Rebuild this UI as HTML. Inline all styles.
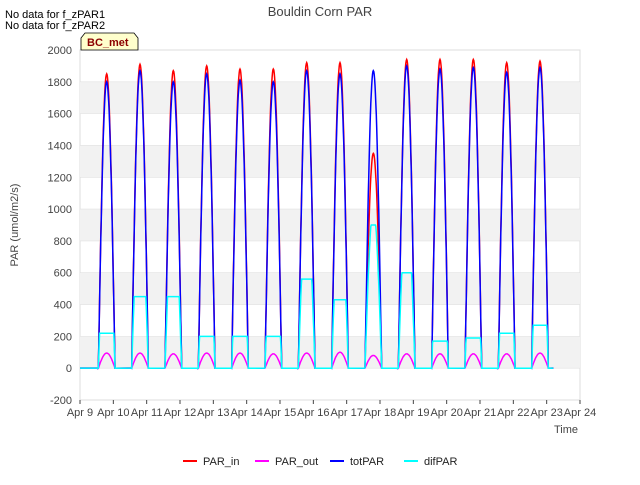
<!DOCTYPE html>
<html><head><meta charset="utf-8"><style>
body{margin:0;background:#fff;font-family:"Liberation Sans",sans-serif}
svg text{font-family:"Liberation Sans",sans-serif}
</style></head><body>
<svg id="chart" width="640" height="480" viewBox="0 0 640 480">
<rect x="0" y="0" width="640" height="480" fill="#fff"/>
<g id="bands"></g><g id="grid"></g><g id="series"></g><g id="axes"></g>
<text x="320" y="16" text-anchor="middle" font-size="13" fill="#444">Bouldin Corn PAR</text>
<text x="5" y="18" font-size="11" fill="#000">No data for f_zPAR1</text>
<text x="5" y="29" font-size="11" fill="#000">No data for f_zPAR2</text>
<g>
<path d="M81,50 L81,38 L85,33 L134,33 L138,38 L138,50 Z" fill="#ffffcc" stroke="#000" stroke-width="0.8"/>
<text x="87" y="46" font-size="11" font-weight="bold" fill="#8b0000">BC_met</text></g>
<text x="566" y="433" text-anchor="middle" font-size="11" fill="#444">Time</text>
<text x="18" y="225" text-anchor="middle" font-size="11" fill="#444" transform="rotate(-90 18 225)">PAR (umol/m2/s)</text>
<g id="legend"></g>
</svg>
<script>
const xTicks=["Apr 9","Apr 10","Apr 11","Apr 12","Apr 13","Apr 14","Apr 15","Apr 16","Apr 17","Apr 18","Apr 19","Apr 20","Apr 21","Apr 22","Apr 23","Apr 24"];
const yTicks=[-200,0,200,400,600,800,1000,1200,1400,1600,1800,2000];
const dayIndex=[0,1,2,3,4,5,6,7,8,9,10,11,12,13];
const parInPeak=[1850,1910,1870,1900,1880,1880,1920,1920,1350,1940,1940,1940,1920,1930];
const totParPeak=[1800,1870,1800,1850,1810,1800,1870,1850,1870,1900,1880,1890,1860,1890];
const parOutPeak=[95,95,90,95,95,90,95,100,80,90,90,90,90,95];
const difParLevel=[220,450,450,200,200,200,560,430,900,600,170,190,220,270];
const NS="http://www.w3.org/2000/svg";
const X0=80,X1=580,Y0=50,Y1=400;
const xs=d=>X0+(d)/15*(X1-X0);
const ys=v=>Y1-(v+200)/2200*(Y1-Y0);
function mk(t,a,p){const e=document.createElementNS(NS,t);for(const k in a)e.setAttribute(k,a[k]);(p||document.getElementById('series')).appendChild(e);return e;}
const bands=document.getElementById('bands'),grid=document.getElementById('grid'),axes=document.getElementById('axes');
mk('rect',{x:X0,y:Y0,width:X1-X0,height:Y1-Y0,fill:'#fff',stroke:'#ddd'},bands);
[0,400,800,1200,1600].forEach(b=>{const r=mk('rect',{x:X0,y:ys(b+200),width:X1-X0,height:ys(b)-ys(b+200),fill:'#f2f2f2'},bands);

});
yTicks.forEach(v=>{mk('line',{x1:X0,x2:X1,y1:ys(v),y2:ys(v),stroke:'#e0e0e0','stroke-width':0.6},grid);
const t=mk('text',{x:X0-8,y:ys(v)+4,'text-anchor':'end','font-size':11,fill:'#444'},axes);t.textContent=v;

});
xTicks.forEach((s,i)=>{mk('line',{x1:xs(i),x2:xs(i),y1:Y1,y2:Y1+4,stroke:'#444'},axes);
const t=mk('text',{x:xs(i),y:Y1+16,'text-anchor':'middle','font-size':11,fill:'#444'},axes);t.textContent=s;

});
function prof(f){return f<=0||f>=1?0:Math.sin(Math.PI*f);}
function path(peaks,color,name,flat){
 let d=`M${xs(0)},${ys(0)}`;
 dayIndex.forEach(i=>{const s=i+0.55,e=i+1.05;d+=` L${xs(s)},${ys(0)}`;
  for(let k=0;k<=40;k++){const f=k/40;let v=peaks[i]*prof(f);
   if(flat){v=Math.min(peaks[i],1000*prof(f));}
   d+=` L${xs(s+f*(e-s)).toFixed(1)},${ys(v).toFixed(1)}`;}
 });
 d+=` L${xs(14.2)},${ys(0)}`;
 const p=mk('path',{d:d,fill:'none',stroke:color,'stroke-width':1.5});
 
 
}
path(parInPeak,'#ff0000','par-in-line');
path(parOutPeak,'#ff00ff','par-out-line');
path(totParPeak,'#0000ff','tot-par-line');
path(difParLevel,'#00ffff','dif-par-line',true);
const lg=document.getElementById('legend');
[['PAR_in','#ff0000',183],['PAR_out','#ff00ff',255],['totPAR','#0000ff',330],['difPAR','#00ffff',404]].forEach(([n,c,x])=>{
 const g=mk('g',{},lg);
 
 
 mk('line',{x1:x,x2:x+14,y1:461,y2:461,stroke:c,'stroke-width':2},g);
 const t=mk('text',{x:x+20,y:465,'font-size':11,fill:'#222'},g);t.textContent=n;});
</script>
</body></html>
